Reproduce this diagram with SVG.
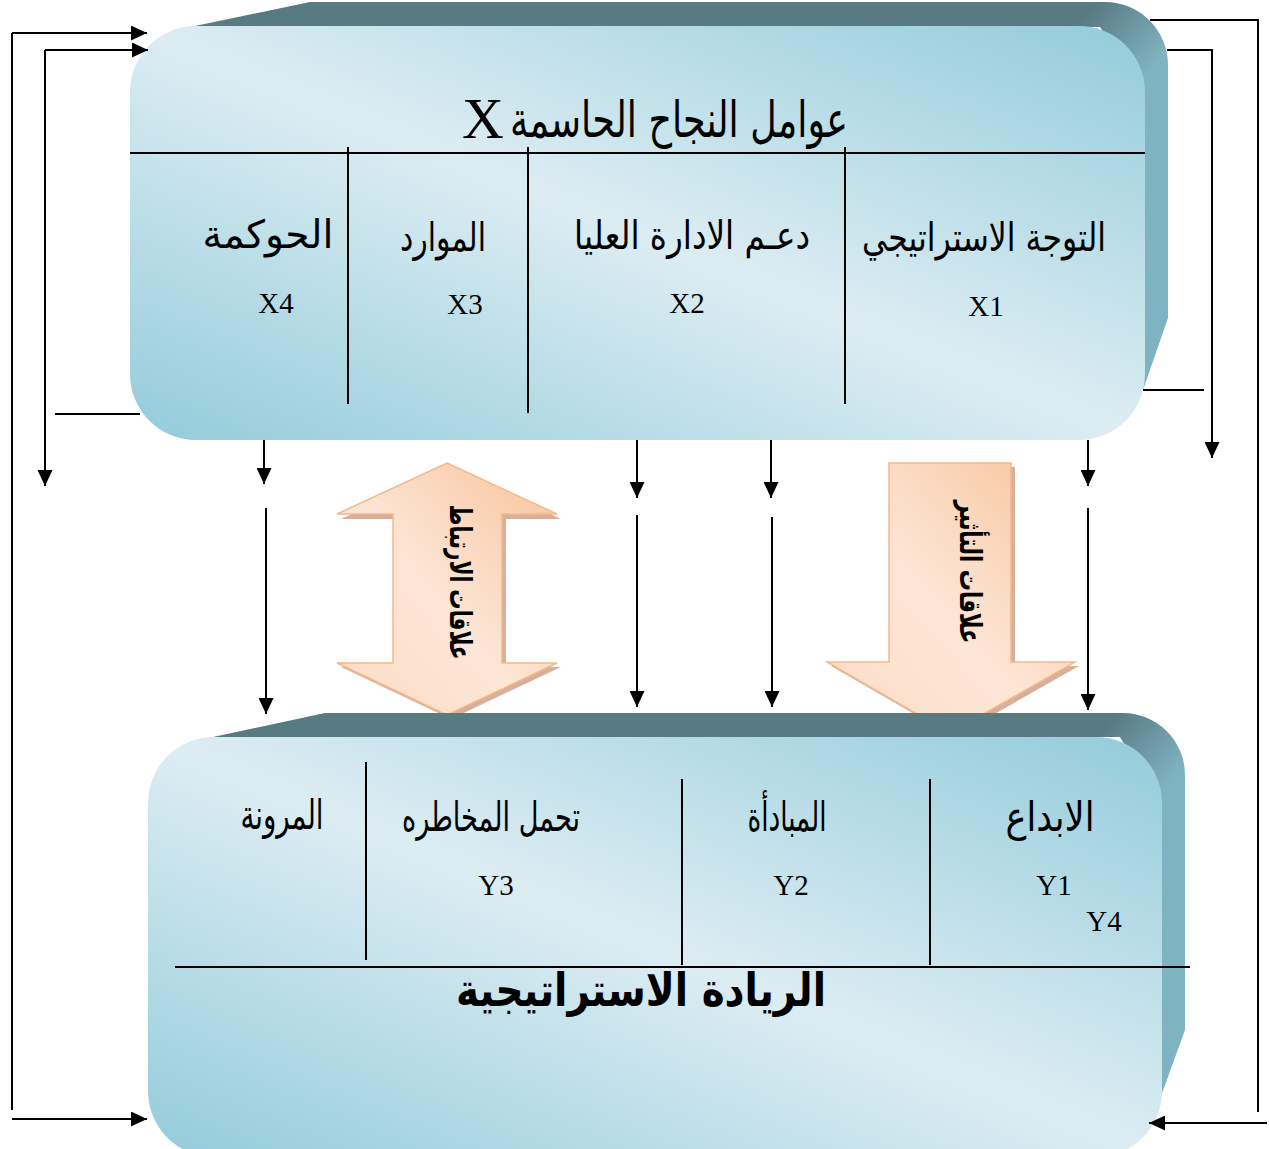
<svg xmlns="http://www.w3.org/2000/svg" width="1269" height="1149" viewBox="0 0 1269 1149">
<style>
.ln{stroke:#000;stroke-width:2;fill:none}
.dv{stroke:#000;stroke-width:2}
.ar{font-family:'DejaVu Sans',sans-serif;fill:#000;text-anchor:middle}
.lat{font-family:'Liberation Serif','Times New Roman',serif;fill:#000;text-anchor:middle}
.orng{stroke:#f4b88a;stroke-width:1.5}
.shd{fill:#c9967a;opacity:0.75}
</style>
<defs>
<linearGradient id="face" x1="1" y1="0" x2="0" y2="1">
<stop offset="0" stop-color="#93cbdb"/>
<stop offset="0.5" stop-color="#dcedf2"/>
<stop offset="1" stop-color="#93cbdb"/>
</linearGradient>
<linearGradient id="backTop" gradientUnits="userSpaceOnUse" x1="1095" y1="5" x2="1160" y2="60">
<stop offset="0" stop-color="#587a83"/>
<stop offset="1" stop-color="#80b3c2"/>
</linearGradient>
<linearGradient id="backBot" gradientUnits="userSpaceOnUse" x1="1115" y1="716" x2="1180" y2="772">
<stop offset="0" stop-color="#587a83"/>
<stop offset="1" stop-color="#80b3c2"/>
</linearGradient>
<linearGradient id="peach" x1="1" y1="0" x2="0" y2="1">
<stop offset="0" stop-color="#f7c39b"/>
<stop offset="0.55" stop-color="#fde6d6"/>
<stop offset="1" stop-color="#fbdcc6"/>
</linearGradient>
<marker id="ah" markerUnits="userSpaceOnUse" markerWidth="16" markerHeight="15" refX="16" refY="7.5" orient="auto">
<path d="M0,0 L16,7.5 L0,15 Z" fill="#000"/>
</marker>
</defs>

<!-- orange arrows (behind the bottom box) -->
<g id="arrow-correlation">
<polygon class="shd" points="451,468 561,519 506,519 506,667 561,667 451,719 341,667 397,667 397,519 341,519"/>
<polygon class="orng" fill="url(#peach)" points="447,463 557,514 502,514 502,663 557,663 447,715 337,663 393,663 393,514 337,514"/>
<text class="ar" font-size="30" font-weight="bold" transform="translate(460,582) rotate(90)" dominant-baseline="central" textLength="155" lengthAdjust="spacingAndGlyphs">علاقات الارتباط</text>
</g>
<g id="arrow-influence">
<polygon class="shd" points="893,467 1015,467 1015,666 1079,666 954,737 831,666 893,666"/>
<polygon class="orng" fill="url(#peach)" points="889,463 1011,463 1011,662 1075,662 950,733 827,662 889,662"/>
<text class="ar" font-size="30" font-weight="bold" transform="translate(970,572) rotate(90)" dominant-baseline="central" textLength="143" lengthAdjust="spacingAndGlyphs">علاقات التأثير</text>
</g>

<!-- top box -->
<g id="box-x">
<path d="M190,27 L310,2 L1105,2 A63,63 0 0 1 1168,65 L1168,318 L1143,390 L1143,90 L1100,27 Z" fill="url(#backTop)"/>
<rect x="130" y="26" width="1015" height="414" rx="66" ry="66" fill="url(#face)"/>
<line class="dv" x1="130" y1="153" x2="1145" y2="153"/>
<line class="dv" x1="348" y1="147" x2="348" y2="404"/>
<line class="dv" x1="528" y1="147" x2="528" y2="413"/>
<line class="dv" x1="845" y1="147" x2="845" y2="404"/>
<text class="ar" x="679" y="137" font-size="50" textLength="338" lengthAdjust="spacingAndGlyphs">عوامل النجاح الحاسمة</text>
<text class="lat" x="483" y="138" font-size="58">X</text>
<g id="x1">
<text class="ar" x="984" y="251" font-size="39" textLength="244" lengthAdjust="spacingAndGlyphs">التوجة الاستراتيجي</text>
<text class="lat" x="986" y="316" font-size="29">X1</text>
</g>
<g id="x2">
<text class="ar" x="692" y="249" font-size="39" textLength="236" lengthAdjust="spacingAndGlyphs">دعـم الادارة العليا</text>
<text class="lat" x="687" y="313" font-size="29">X2</text>
</g>
<g id="x3">
<text class="ar" x="443" y="251" font-size="39" textLength="86" lengthAdjust="spacingAndGlyphs">الموارد</text>
<text class="lat" x="465" y="314" font-size="29">X3</text>
</g>
<g id="x4">
<text class="ar" x="268" y="248" font-size="39" textLength="131" lengthAdjust="spacingAndGlyphs">الحوكمة</text>
<text class="lat" x="276" y="313" font-size="29">X4</text>
</g>
</g>

<!-- bottom box -->
<g id="box-y">
<path d="M213,737 L325,713 L1123,713 A62,62 0 0 1 1185,775 L1185,1030 L1157,1107 L1157,800 L1120,737 Z" fill="url(#backBot)"/>
<rect x="148" y="737" width="1014" height="420" rx="66" ry="66" fill="url(#face)"/>
<line class="dv" x1="175" y1="967" x2="1190" y2="967"/>
<line class="dv" x1="366" y1="762" x2="366" y2="960"/>
<line class="dv" x1="682" y1="779" x2="682" y2="965"/>
<line class="dv" x1="930" y1="779" x2="930" y2="965"/>
<g id="y1">
<text class="ar" x="1050" y="831" font-size="41" textLength="89" lengthAdjust="spacingAndGlyphs">الابداع</text>
<text class="lat" x="1054" y="895" font-size="29">Y1</text>
</g>
<g id="y2">
<text class="ar" x="787" y="831" font-size="41" textLength="79" lengthAdjust="spacingAndGlyphs">المبادأة</text>
<text class="lat" x="791" y="895" font-size="29">Y2</text>
</g>
<g id="y3">
<text class="ar" x="491" y="831" font-size="41" textLength="178" lengthAdjust="spacingAndGlyphs">تحمل المخاطره</text>
<text class="lat" x="496" y="895" font-size="29">Y3</text>
</g>
<g id="y4">
<text class="ar" x="282" y="829" font-size="41" textLength="83" lengthAdjust="spacingAndGlyphs">المرونة</text>
<text class="lat" x="1104" y="931" font-size="29">Y4</text>
</g>
<text class="ar" x="641" y="1006" font-size="46" font-weight="bold" textLength="370" lengthAdjust="spacingAndGlyphs">الريادة الاستراتيجية</text>
</g>

<!-- connectors -->
<g id="connectors">
<line class="ln" x1="12" y1="33" x2="12" y2="1110"/>
<line class="ln" x1="12" y1="33" x2="147" y2="33" marker-end="url(#ah)"/>
<line class="ln" x1="12" y1="1119" x2="147" y2="1119" marker-end="url(#ah)"/>
<line class="ln" x1="45" y1="50" x2="148" y2="50" marker-end="url(#ah)"/>
<line class="ln" x1="45" y1="50" x2="45" y2="486" marker-end="url(#ah)"/>
<line class="ln" x1="55" y1="414" x2="140" y2="414"/>
<polyline class="ln" points="1150,20 1258,20 1258,1112"/>
<line class="ln" x1="1267" y1="1123" x2="1149" y2="1123" marker-end="url(#ah)"/>
<polyline class="ln" points="1167,50 1212,50 1212,458" marker-end="url(#ah)"/>
<line class="ln" x1="1143" y1="390" x2="1204" y2="390"/>
<line class="ln" x1="264" y1="440" x2="264" y2="484" marker-end="url(#ah)"/>
<line class="ln" x1="266" y1="508" x2="266" y2="714" marker-end="url(#ah)"/>
<line class="ln" x1="637" y1="440" x2="637" y2="498" marker-end="url(#ah)"/>
<line class="ln" x1="637" y1="515" x2="637" y2="707" marker-end="url(#ah)"/>
<line class="ln" x1="771" y1="440" x2="771" y2="498" marker-end="url(#ah)"/>
<line class="ln" x1="772" y1="517" x2="772" y2="707" marker-end="url(#ah)"/>
<line class="ln" x1="1088" y1="440" x2="1088" y2="486" marker-end="url(#ah)"/>
<line class="ln" x1="1088" y1="508" x2="1088" y2="710" marker-end="url(#ah)"/>
</g>
</svg>
